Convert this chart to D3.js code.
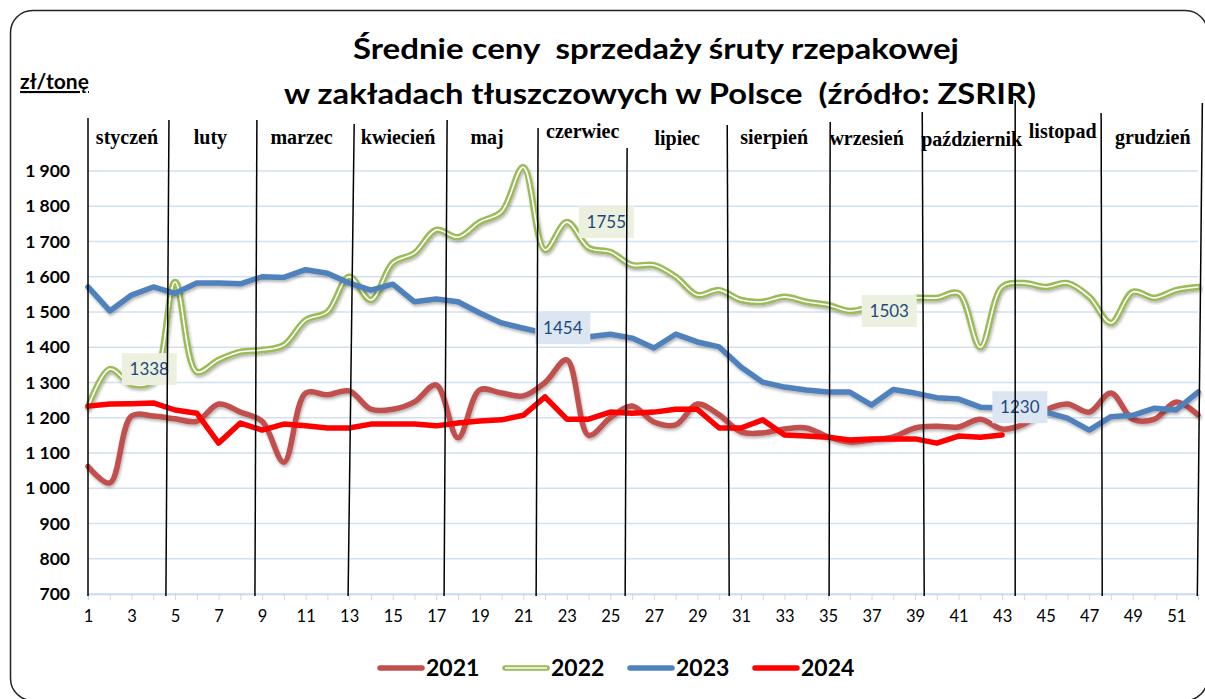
<!DOCTYPE html>
<meta charset="utf-8">
<style>
body { margin: 0; background: #fff; }
svg { display: block; }
.title { font-family: Lato, "Open Sans", sans-serif; font-weight: bold; font-size: 29px; fill: #000; white-space: pre; }
.unit { font-family: Lato, sans-serif; font-weight: bold; font-size: 21px; text-decoration: underline; }
.ylab text { font-family: Lato, sans-serif; font-weight: bold; font-size: 17.5px; fill: #000; }
.xaxis text { font-family: Lato, sans-serif; font-size: 16.5px; fill: #000; }
.xaxis line, .xaxis path { stroke: #c9d8ec; }
.grid line { stroke: #d3e0f0; stroke-width: 1.5px; }
.months text { font-family: "Liberation Serif", serif; font-weight: bold; font-size: 20px; fill: #000; }
.months line { stroke: #000; stroke-width: 1.5px; }
.dlabel text { font-family: Lato, sans-serif; font-size: 17px; fill: #1f497d; }
.legend text { font-family: Lato, sans-serif; font-weight: bold; font-size: 23px; fill: #000; }
</style>
<svg width="1205" height="699"></svg>
<script src="https://d3js.org/d3.v7.min.js"></script>
<script>

var weeks = d3.range(1, 53);
var yTicks = d3.range(700, 2000, 100);
var years = ["2021", "2022", "2023", "2024"];

var s2021 = [1062,1015,1205,1205,1197,1190,1239,1216,1190,1074,1270,1265,1276,1224,1224,1245,1293,1143,1279,1270,
             1262,1300,1364,1150,1200,1233,1188,1180,1239,1208,1160,1157,1168,1171,1146,1131,1137,1146,1171,1176,
             1174,1196,1168,1182,1222,1239,1216,1270,1196,1196,1245,1208];
var s2022 = [1230,1338,1295,1305,1585,1330,1364,1387,1392,1406,1477,1500,1600,1534,1639,1667,1733,1712,1755,1784,
             1911,1676,1755,1682,1670,1633,1633,1600,1548,1562,1534,1529,1543,1529,1520,1503,1515,1530,1540,1540,
             1553,1400,1571,1582,1571,1582,1543,1469,1557,1540,1562,1571];
var s2023 = [1571,1503,1548,1571,1553,1582,1582,1580,1600,1598,1620,1610,1582,1562,1579,1529,1537,1529,1497,1469,
             1454,1440,1432,1430,1437,1426,1398,1437,1415,1401,1344,1301,1287,1279,1273,1273,1236,1280,1270,1257,
             1253,1230,1228,1225,1216,1199,1165,1203,1207,1227,1222,1273];
var s2024 = [1233,1239,1240,1242,1222,1213,1128,1185,1165,1182,1177,1171,1171,1182,1182,1182,1177,1185,1191,1194,
             1207,1259,1196,1196,1216,1213,1216,1224,1224,1171,1171,1194,1151,1148,1145,1137,1140,1140,1140,1128,
             1148,1145,1151];

// month names and the week positions of the hand drawn dividers (top, bottom)
var months = ["styczeń","luty","marzec","kwiecień","maj","czerwiec","lipiec","sierpień","wrzesień","październik","listopad","grudzień"];
var dividerTop = [1, 4.72, 8.76, 13.23, 17.5, 21.68, 25.77, 30.37, 35.1, 39.33, 43.6, 47.55, 52.2];
var dividerBottom = [1, 4.58, 8.67, 12.95, 17.36, 21.59, 25.68, 30.46, 35.05, 39.42, 43.6, 47.6, 51.97];
var dividerTopY = [118, 120, 120, 124, 120, 128, 148, 125, 122, 112, 100, 113, 103];
// small nudges of the month names (pixels)
var monthDx = [0, 0, 0, 2, -3, 2, 0, -5, -10, 2, 4, 3];
var monthDy = [0, 0, 0, 0, 0, -6, 1, 0, 1, 2, -6, 0];

// data labels: series, week
var dataLabels = [
  { year: "2022", week: 2 },
  { year: "2022", week: 23 },
  { year: "2023", week: 21 },
  { year: "2022", week: 36 },
  { year: "2023", week: 42 }
];

var series = { "2021": s2021, "2022": s2022, "2023": s2023, "2024": s2024 };
var colors = { "2021": "#c0504d", "2022": "#9bbb59", "2023": "#4f81bd", "2024": "#ff0000" };
var labelFill = { "2022": "#ebf1de", "2023": "#dce6f2" };

var svg = d3.select("svg");

var x = d3.scaleLinear().domain([1, 52]).range([88, 1198]);
var y = d3.scaleLinear().domain([700, 1900]).range([594, 171]);

var defs = svg.append("defs");
var f = defs.append("filter").attr("id", "shadow")
    .attr("x", "-5%").attr("y", "-20%").attr("width", "110%").attr("height", "140%");
f.append("feDropShadow").attr("dx", 1).attr("dy", 2).attr("stdDeviation", 1.5)
    .attr("flood-color", "#000").attr("flood-opacity", 0.3);

// frame
svg.append("rect")
    .attr("x", 10.5).attr("y", 10.5).attr("width", 1197).attr("height", 690)
    .attr("rx", 22).attr("ry", 22)
    .attr("fill", "none").attr("stroke", "#222").attr("stroke-width", 1.5);

// titles
svg.append("text").attr("class", "title")
    .attr("x", 656).attr("y", 59).attr("text-anchor", "middle")
    .attr("textLength", 606).attr("lengthAdjust", "spacingAndGlyphs")
    .text("Średnie ceny  sprzedaży śruty rzepakowej");
svg.append("text").attr("class", "title")
    .attr("x", 660).attr("y", 104).attr("text-anchor", "middle")
    .attr("textLength", 752).attr("lengthAdjust", "spacingAndGlyphs")
    .text("w zakładach tłuszczowych w Polsce  (źródło: ZSRIR)");
svg.append("text").attr("class", "unit")
    .attr("x", 20).attr("y", 89)
    .text("zł/tonę");

// grid
svg.append("g").attr("class", "grid")
  .selectAll("line")
  .data(yTicks)
  .enter().append("line")
    .attr("x1", x(1)).attr("x2", x(52))
    .attr("y1", function(d) { return y(d); })
    .attr("y2", function(d) { return y(d); });

// y labels
var fmt = d3.formatLocale({ thousands: " ", grouping: [3], decimal: ",", currency: ["", ""] }).format(",d");
svg.append("g").attr("class", "ylab")
  .selectAll("text")
  .data(yTicks)
  .enter().append("text")
    .attr("x", 70)
    .attr("y", function(d) { return y(d); })
    .attr("dy", "0.35em")
    .attr("text-anchor", "end")
    .text(function(d) { return fmt(d); });

// x axis
var xAxis = svg.append("g").attr("class", "xaxis")
    .attr("transform", "translate(0," + y(700) + ")")
    .call(d3.axisBottom(x).tickValues(weeks).tickSize(6).tickPadding(10)
      .tickFormat(function(d) { return d % 2 ? d : ""; }));
xAxis.select(".domain").attr("stroke-width", 1.5);

// lines
var smooth = d3.line()
    .x(function(d, i) { return x(i + 1); })
    .y(function(d) { return y(d); })
    .curve(d3.curveCatmullRom.alpha(0.5));
var straight = d3.line()
    .x(function(d, i) { return x(i + 1); })
    .y(function(d) { return y(d); });

var lines = svg.append("g").attr("fill", "none")
    .attr("stroke-linejoin", "round").attr("stroke-linecap", "round");

lines.append("path").datum(s2021)
    .attr("d", smooth).attr("stroke", colors["2021"]).attr("stroke-width", 5.5)
    .attr("filter", "url(#shadow)");
lines.append("path").datum(s2022)
    .attr("d", smooth).attr("stroke", colors["2022"]).attr("stroke-width", 6.5)
    .attr("filter", "url(#shadow)");
lines.append("path").datum(s2022)
    .attr("d", smooth).attr("stroke", "#fff").attr("stroke-width", 1.6);
lines.append("path").datum(s2023)
    .attr("d", straight).attr("stroke", colors["2023"]).attr("stroke-width", 5.5)
    .attr("filter", "url(#shadow)");
lines.append("path").datum(s2024)
    .attr("d", straight).attr("stroke", colors["2024"]).attr("stroke-width", 5.5);

// data labels
var dl = svg.append("g").attr("class", "dlabel")
  .selectAll("g")
  .data(dataLabels)
  .enter().append("g")
    .attr("transform", function(d) {
      return "translate(" + (x(d.week) + 12) + "," + y(series[d.year][d.week - 1]) + ")";
    });
dl.append("rect")
    .attr("x", 0).attr("y", -16).attr("width", 55).attr("height", 32)
    .attr("fill", function(d) { return labelFill[d.year]; });
dl.append("text")
    .attr("x", 27.5).attr("dy", "0.35em").attr("text-anchor", "middle")
    .text(function(d) { return series[d.year][d.week - 1]; });

// month dividers and names
var mg = svg.append("g").attr("class", "months");
mg.selectAll("line")
  .data(dividerTop)
  .enter().append("line")
    .attr("x1", function(d) { return x(d); })
    .attr("y1", function(d, i) { return dividerTopY[i]; })
    .attr("x2", function(d, i) { return x(dividerBottom[i]); })
    .attr("y2", 596);
mg.selectAll("text")
  .data(months)
  .enter().append("text")
    .attr("x", function(d, i) { return (x(dividerBottom[i]) + x(dividerBottom[i + 1])) / 2 + monthDx[i]; })
    .attr("y", function(d, i) { return 144 + monthDy[i]; })
    .attr("text-anchor", "middle")
    .text(function(d) { return d; });

// legend
var lg = svg.append("g").attr("class", "legend")
  .selectAll("g")
  .data(years)
  .enter().append("g")
    .attr("transform", function(d, i) { return "translate(" + (380 + i * 125) + ",668)"; });
lg.append("line")
    .attr("x1", 0).attr("x2", 42)
    .attr("stroke", function(d) { return colors[d]; })
    .attr("stroke-width", 5.5).attr("stroke-linecap", "round");
lg.filter(function(d) { return d === "2022"; }).append("line")
    .attr("x1", 0).attr("x2", 42).attr("stroke", "#fff").attr("stroke-width", 1.4);
lg.append("text")
    .attr("x", 46).attr("dy", "0.36em")
    .text(function(d) { return d; });

</script>
